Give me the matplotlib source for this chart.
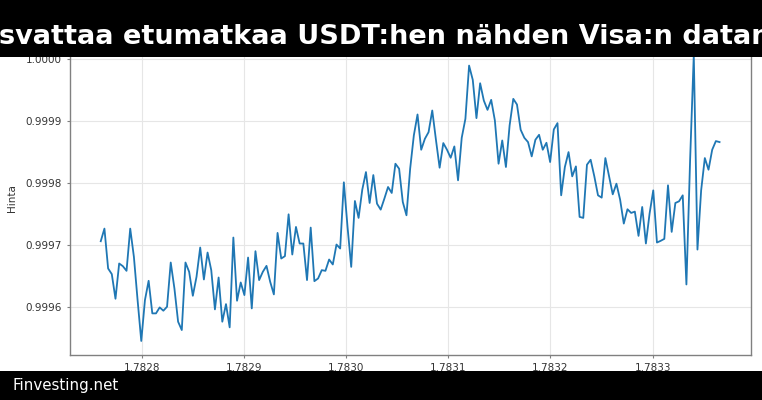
import numpy as np
import matplotlib
matplotlib.use("Agg")
import matplotlib.pyplot as plt
from matplotlib.patches import Rectangle
from matplotlib.ticker import FormatStrFormatter

# tekstit
otsikko = "svattaa etumatkaa USDT:hen nähden Visa:n datan"
alateksti = "Finvesting.net"
y_nimi = "Hinta"

# hinnat luettu kuvasta
hinta = [
    0.9997064, 0.9997267, 0.9996626, 0.9996535, 0.9996139, 0.9996706, 0.9996663, 0.9996588,
    0.9997267, 0.9996813, 0.9996118, 0.9995460, 0.9996118, 0.9996428, 0.9995904, 0.9995904,
    0.9996000, 0.9995947, 0.9996011, 0.9996722, 0.9996305, 0.9995770, 0.9995636, 0.9996722,
    0.9996572, 0.9996187, 0.9996492, 0.9996963, 0.9996449, 0.9996882, 0.9996599, 0.9995968,
    0.9996481, 0.9995770, 0.9996053, 0.9995679, 0.9997123, 0.9996107, 0.9996401, 0.9996198,
    0.9996802, 0.9995984, 0.9996904, 0.9996439, 0.9996572, 0.9996668, 0.9996412, 0.9996209,
    0.9997198, 0.9996786, 0.9996824, 0.9997497, 0.9996850, 0.9997294, 0.9997027, 0.9997027,
    0.9996439, 0.9997283, 0.9996422, 0.9996465, 0.9996599, 0.9996588, 0.9996770, 0.9996690,
    0.9997011, 0.9996947, 0.9998011, 0.9997294, 0.9996652, 0.9997711, 0.9997439, 0.9997893,
    0.9998176, 0.9997679, 0.9998128, 0.9997668, 0.9997572, 0.9997749, 0.9997936, 0.9997840,
    0.9998310, 0.9998230, 0.9997695, 0.9997481, 0.9998230, 0.9998765, 0.9999102, 0.9998535,
    0.9998711, 0.9998818, 0.9999166, 0.9998695, 0.9998246, 0.9998642, 0.9998535, 0.9998406,
    0.9998588, 0.9998043, 0.9998727, 0.9999032, 0.9999888, 0.9999658, 0.9999043, 0.9999604,
    0.9999326, 0.9999176, 0.9999337, 0.9999005, 0.9998310, 0.9998684, 0.9998257, 0.9998925,
    0.9999353, 0.9999262, 0.9998856, 0.9998727, 0.9998658, 0.9998428, 0.9998695, 0.9998775,
    0.9998535, 0.9998647, 0.9998337, 0.9998861, 0.9998963, 0.9997802, 0.9998257, 0.9998497,
    0.9998107, 0.9998267, 0.9997455, 0.9997439, 0.9998294, 0.9998374, 0.9998107, 0.9997802,
    0.9997765, 0.9998401, 0.9998107, 0.9997818, 0.9997989, 0.9997733, 0.9997348, 0.9997578,
    0.9997519, 0.9997540, 0.9997150, 0.9997615, 0.9997027, 0.9997508, 0.9997882, 0.9997043,
    0.9997070, 0.9997102, 0.9997963, 0.9997214, 0.9997679, 0.9997706, 0.9997802, 0.9996369,
    0.9998364, 1.0000056, 0.9996930, 0.9997882, 0.9998401, 0.9998214, 0.9998535, 0.9998674,
    0.9998658,
]
x_alku, x_loppu = 1.7827596, 1.7833656
x_ticks = [1.7828, 1.7829, 1.7830, 1.7831, 1.7832, 1.7833]
y_ticks = [0.9996, 0.9997, 0.9998, 0.9999, 1.0000]

x = np.linspace(x_alku, x_loppu, len(hinta))

fig = plt.figure(figsize=(7.62, 4.0), dpi=100)
ax = fig.add_axes([69.5 / 762, 44.7 / 400, 681 / 762, 314.6 / 400])

ax.plot(x, hinta, color="#1f77b4", linewidth=1.3)

ax.set_xlim(1.782729, 1.7833959)
ax.set_ylim(0.999523, 1.0000288)
ax.set_xticks(x_ticks)
ax.set_yticks(y_ticks)
ax.xaxis.set_major_formatter(FormatStrFormatter("%.4f"))
ax.yaxis.set_major_formatter(FormatStrFormatter("%.4f"))
ax.grid(True, color="#e6e6e6", linewidth=0.8)
ax.set_axisbelow(True)
for s in ax.spines.values():
    s.set_color("#808080")
    s.set_linewidth(1.0)
ax.tick_params(colors="#808080", labelcolor="#333333", labelsize=7.5, length=2.5, width=0.8, pad=3)
ax.set_ylabel(y_nimi, fontsize=7.5, color="#333333", labelpad=6)

# mustat palkit ylä- ja alareunaan
fig.add_artist(Rectangle((0, 1 - 57 / 400), 1, 57 / 400, transform=fig.transFigure,
                         facecolor="black", edgecolor="none", zorder=10))
fig.add_artist(Rectangle((0, 0), 1, 28.7 / 400, transform=fig.transFigure,
                         facecolor="black", edgecolor="none", zorder=10))
fig.text(-0.001, 1 - 44.3 / 400, otsikko, color="white", fontsize=19.5, fontweight="bold",
         ha="left", va="baseline", zorder=11)
fig.text(12 / 762, 10 / 400, alateksti, color="white", fontsize=10.8,
         ha="left", va="baseline", zorder=11)

fig.savefig("out.png", dpi=100)
